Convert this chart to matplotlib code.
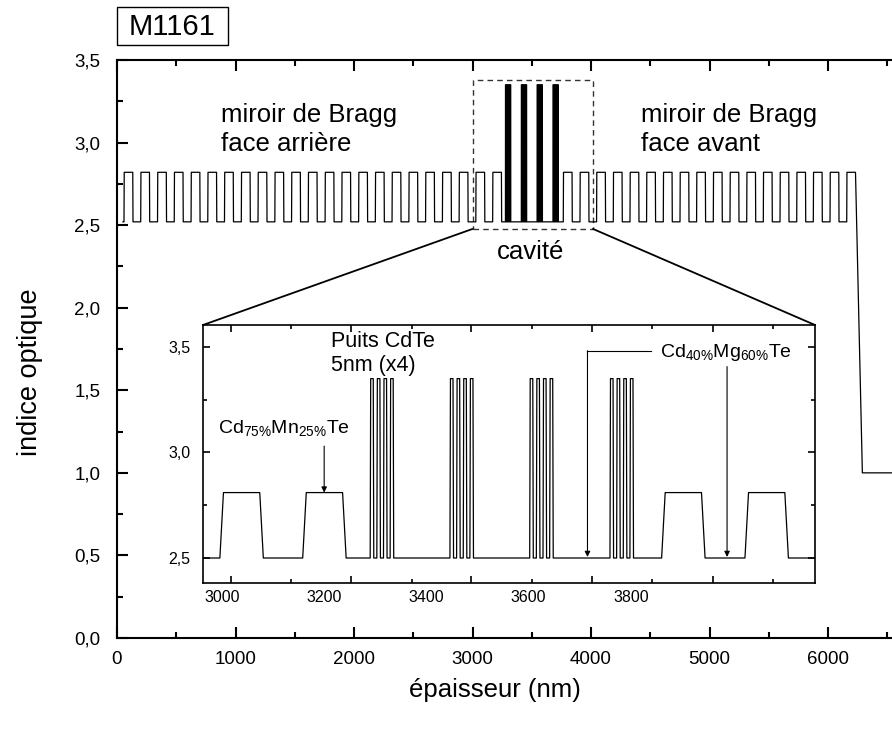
import numpy as np
import matplotlib
matplotlib.use('Agg')
import matplotlib.pyplot as plt
from matplotlib.patches import Rectangle, ConnectionPatch
from matplotlib.ticker import FuncFormatter

plt.rcParams['font.family'] = ['Liberation Sans', 'DejaVu Sans']
plt.rcParams['mathtext.fontset'] = 'custom'
plt.rcParams['mathtext.rm'] = 'Liberation Sans'
plt.rcParams['mathtext.default'] = 'regular'

# ---- main profile (nm, optical index) ----
n_low = 2.52
n_high = 2.82
n_well = 3.35
n_end = 1.0
start_x = 50
end_drop_x = 6290
end_x = 7000
high_width = 72
bragg_left = [59, 200, 342, 483, 625, 766, 907, 1049, 1190, 1332, 1473, 1614,
              1756, 1897, 2039, 2180, 2321, 2463, 2604, 2746, 2887, 3028, 3170]
bragg_right = [3766, 3907, 4047, 4188, 4329, 4469, 4610, 4751, 4891, 5032,
               5173, 5314, 5454, 5595, 5736, 5876, 6017, 6158]
wells_main = [3278, 3412, 3545, 3679]
well_width = 5
barrier_width = 8
wells_per_group = 4

# ---- inset profile ----
inset_low = 2.5
inset_high = 2.81
inset_well = 3.35
inset_start, inset_end = 2950, 4200
inset_plateaus = [2996, 3158, 3860, 4023]
plateau_top = 71
plateau_ramp = 7
inset_groups = [3290, 3446, 3602, 3759]

inset_major_ticks = [3017, 3252, 3488, 3724, 3960]
inset_minor_ticks = [3135, 3371, 3607, 3842, 4078]
inset_xlabels = [3000, 3200, 3400, 3600, 3800]


def pulse(s, w, top, base, ramp):
    return [(s, base), (s + ramp, top), (s + ramp + w, top), (s + 2 * ramp + w, base)]


def wells(groups, top, base, ramp):
    pts = []
    for g in groups:
        for i in range(wells_per_group):
            pts += pulse(g + i * (well_width + barrier_width), well_width, top, base, ramp)
    return pts


main_pts = [(start_x, n_low)]
for s in bragg_left:
    main_pts += pulse(s, high_width, n_high, n_low, 2)
main_pts += wells(wells_main, n_well, n_low, 0.5)
for s in bragg_right:
    main_pts += pulse(s, high_width, n_high, n_low, 2)
main_pts.pop()
main_pts += [(end_drop_x, n_end), (end_x, n_end)]
mx, my = zip(*main_pts)

inset_pts = [(inset_start, inset_low)]
for s in inset_plateaus[:2]:
    inset_pts += pulse(s, plateau_top, inset_high, inset_low, plateau_ramp)
inset_pts += wells(inset_groups, inset_well, inset_low, 1)
for s in inset_plateaus[2:]:
    inset_pts += pulse(s, plateau_top, inset_high, inset_low, plateau_ramp)
inset_pts.append((inset_end, inset_low))
ix, iy = zip(*inset_pts)

comma = FuncFormatter(lambda v, p: f'{v:.1f}'.replace('.', ','))

fig = plt.figure(figsize=(8.92, 7.34), dpi=100)
ax = fig.add_axes([117 / 892, 1 - 638 / 734, (946.5 - 117) / 892, (638 - 60) / 734])
ax.plot(mx, my, color='black', lw=0.9)
ax.set_xlim(0, 7000)
ax.set_ylim(0, 3.5)
ax.set_xticks(range(0, 6001, 1000))
ax.set_xticks(range(500, 7001, 500), minor=True)
ax.set_yticks(np.arange(0, 3.51, 0.5))
ax.set_yticks(np.arange(0.25, 3.5, 0.5), minor=True)
ax.yaxis.set_major_formatter(comma)
ax.tick_params(which='both', direction='in', top=True, right=True, width=1.5, labelsize=13.5)
ax.tick_params(which='major', length=8)
ax.tick_params(which='minor', length=4.5)
ax.tick_params(axis='y', pad=12)
ax.tick_params(axis='x', pad=9)
for sp in ax.spines.values():
    sp.set_linewidth(1.5)

ax.add_patch(Rectangle((3000, 2.477), 1017, 0.903, fill=False, ls=(0, (4, 3)), lw=1, ec='#333333'))
ax.text(880, 3.24, 'miroir de Bragg\nface arrière', fontsize=18.5, va='top', linespacing=1.25)
ax.text(4422, 3.24, 'miroir de Bragg\nface avant', fontsize=18.5, va='top', linespacing=1.25)
ax.text(3490, 2.34, 'cavité', ha='center', va='center', fontsize=18.5)

ax2 = fig.add_axes([203 / 892, 1 - 582.7 / 734, 612 / 892, 257.7 / 734])
ax2.plot(ix, iy, color='black', lw=0.9)
ax2.set_xlim(2963, 4160)
ax2.set_ylim(2.383, 3.604)
ax2.set_yticks([2.5, 3.0, 3.5])
ax2.set_yticks([2.75, 3.25], minor=True)
ax2.yaxis.set_major_formatter(comma)
ax2.set_xticks(inset_major_ticks, labels=[])
ax2.set_xticks(inset_minor_ticks, minor=True)
ax2.tick_params(which='both', direction='in', top=True, right=True, width=1.2, labelsize=11.5)
ax2.tick_params(which='major', length=5)
ax2.tick_params(which='minor', length=3)
ax2.tick_params(axis='y', pad=9)
for sp in ax2.spines.values():
    sp.set_linewidth(1.2)
sec = ax2.secondary_xaxis('bottom')
sec.set_xticks(inset_xlabels, labels=[str(v) for v in inset_xlabels])
sec.tick_params(length=0, labelsize=11.5, pad=5)
sec.spines['bottom'].set_visible(False)

ax2.text(3214, 3.575, 'Puits CdTe\n5nm (x4)', va='top', fontsize=15.5, linespacing=1.2)
ax2.text(2992, 3.09, r'Cd$_{75\%}$Mn$_{25\%}$Te', va='baseline', fontsize=14)
ax2.text(3857, 3.454, r'Cd$_{40\%}$Mg$_{60\%}$Te', va='baseline', fontsize=14)
arrow = dict(arrowstyle='-|>', lw=0.8, color='black', mutation_scale=8, shrinkA=0, shrinkB=0)
ax2.annotate('', xy=(3200, 2.81), xytext=(3200, 3.03), arrowprops=arrow)
ax2.plot([3840, 3715], [3.482, 3.482], color='black', lw=0.8)
ax2.annotate('', xy=(3715, 2.505), xytext=(3715, 3.482), arrowprops=arrow)
ax2.annotate('', xy=(3988, 2.505), xytext=(3988, 3.407), arrowprops=arrow)

for xa, xb in [((3000, 2.477), (0, 1)), ((4017, 2.477), (1, 1))]:
    fig.add_artist(ConnectionPatch(xyA=xa, coordsA=ax.transData, xyB=xb, coordsB=ax2.transAxes,
                                   color='black', lw=1.3))

fig.add_artist(Rectangle((116.7 / 892, 1 - 45 / 734), 111 / 892, 37.7 / 734,
                         transform=fig.transFigure, fill=False, ec='black', lw=1))
fig.text(172 / 892, 1 - 27 / 734, 'M1161', ha='center', va='center', fontsize=21)
fig.text(30 / 892, 1 - 372 / 734, 'indice optique', rotation=90, ha='center', va='center', fontsize=19.5)
fig.text(495 / 892, 1 - 690 / 734, 'épaisseur (nm)', ha='center', va='center', fontsize=18.5)

fig.savefig('out.png', dpi=100)
